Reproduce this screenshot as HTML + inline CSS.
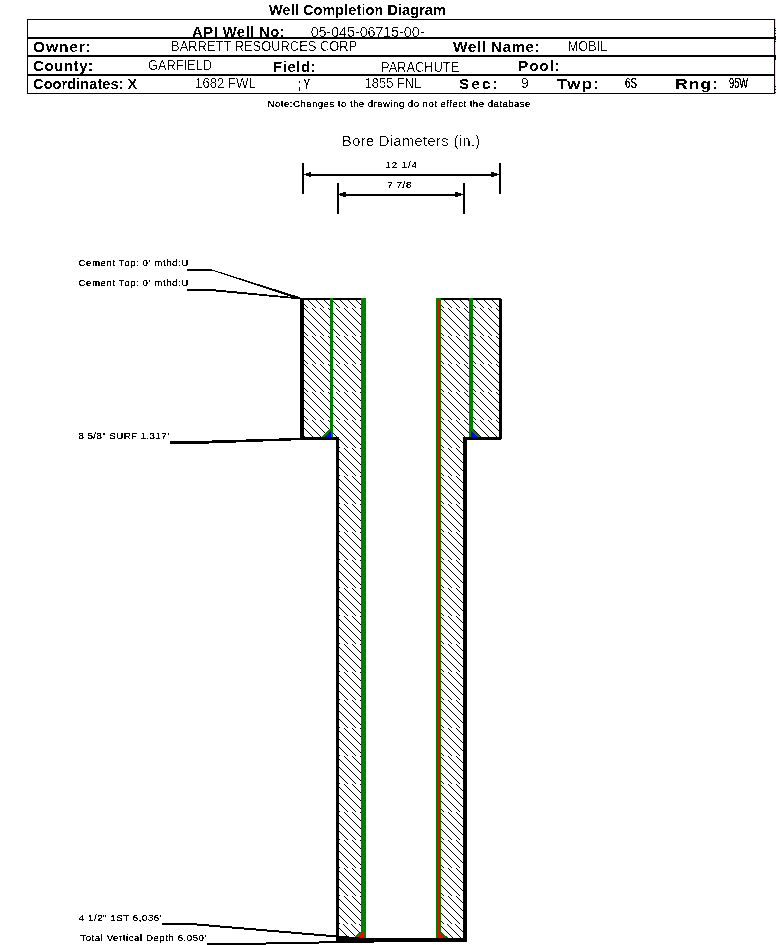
<!DOCTYPE html>
<html><head><meta charset="utf-8"><title>Well Completion Diagram</title>
<style>html,body{margin:0;padding:0;background:#fff;overflow:hidden}svg{display:block}text{font-family:"Liberation Sans",sans-serif;fill:#000}</style></head><body>
<svg width="776" height="945" viewBox="0 0 776 945">
<defs><filter id="t" x="0" y="0" width="776" height="945" filterUnits="userSpaceOnUse"><feComponentTransfer><feFuncA type="discrete" tableValues="0 1 1"/></feComponentTransfer></filter>
<filter id="b" x="0" y="0" width="776" height="945" filterUnits="userSpaceOnUse"><feComponentTransfer><feFuncA type="discrete" tableValues="0 1"/></feComponentTransfer></filter>
<filter id="u" x="0" y="0" width="776" height="945" filterUnits="userSpaceOnUse"><feComponentTransfer><feFuncA type="discrete" tableValues="0 0 0 1 1"/></feComponentTransfer></filter>
<pattern id="h" width="8" height="28" patternUnits="userSpaceOnUse" shape-rendering="crispEdges"><rect x="0" y="0" width="1" height="1"/><rect x="1" y="1" width="1" height="1"/><rect x="2" y="2" width="1" height="1"/><rect x="3" y="3" width="1" height="1"/><rect x="4" y="4" width="1" height="1"/><rect x="5" y="5" width="1" height="1"/><rect x="6" y="6" width="1" height="1"/><rect x="7" y="7" width="1" height="1"/><rect x="0" y="8" width="1" height="1"/><rect x="1" y="9" width="1" height="1"/><rect x="2" y="10" width="1" height="1"/><rect x="3" y="11" width="1" height="1"/><rect x="4" y="12" width="1" height="1"/><rect x="5" y="13" width="1" height="1"/><rect x="6" y="14" width="1" height="1"/><rect x="7" y="15" width="1" height="1"/><rect x="0" y="16" width="1" height="1"/><rect x="1" y="17" width="1" height="1"/><rect x="2" y="18" width="1" height="1"/><rect x="3" y="19" width="1" height="1"/><rect x="4" y="20" width="1" height="1"/><rect x="5" y="21" width="1" height="1"/><rect x="6" y="22" width="1" height="1"/><rect x="7" y="23" width="1" height="1"/><rect x="0" y="24" width="1" height="1"/><rect x="1" y="25" width="1" height="1"/><rect x="2" y="26" width="1" height="1"/><rect x="3" y="27" width="1" height="1"/></pattern>
<pattern id="h2" width="8" height="28" patternUnits="userSpaceOnUse" shape-rendering="crispEdges"><rect x="7" y="0" width="1" height="1"/><rect x="0" y="1" width="1" height="1"/><rect x="1" y="2" width="1" height="1"/><rect x="2" y="3" width="1" height="1"/><rect x="3" y="4" width="1" height="1"/><rect x="4" y="5" width="1" height="1"/><rect x="5" y="6" width="1" height="1"/><rect x="6" y="7" width="1" height="1"/><rect x="7" y="8" width="1" height="1"/><rect x="0" y="9" width="1" height="1"/><rect x="1" y="10" width="1" height="1"/><rect x="2" y="11" width="1" height="1"/><rect x="3" y="12" width="1" height="1"/><rect x="4" y="13" width="1" height="1"/><rect x="5" y="14" width="1" height="1"/><rect x="6" y="15" width="1" height="1"/><rect x="7" y="16" width="1" height="1"/><rect x="0" y="17" width="1" height="1"/><rect x="1" y="18" width="1" height="1"/><rect x="2" y="19" width="1" height="1"/><rect x="3" y="20" width="1" height="1"/><rect x="4" y="21" width="1" height="1"/><rect x="5" y="22" width="1" height="1"/><rect x="6" y="23" width="1" height="1"/><rect x="7" y="24" width="1" height="1"/><rect x="0" y="25" width="1" height="1"/><rect x="1" y="26" width="1" height="1"/><rect x="2" y="27" width="1" height="1"/></pattern></defs>
<rect width="776" height="945" fill="#fff"/>
<g shape-rendering="crispEdges" fill="#000">
<rect x="27" y="19" width="748" height="1"/>
<rect x="27" y="93" width="748" height="1"/>
<rect x="27" y="19" width="1" height="75"/>
<rect x="774" y="19" width="1" height="75"/>
<rect x="27" y="37" width="748" height="2"/>
<rect x="27" y="55" width="748" height="2"/>
<rect x="27" y="74" width="748" height="2"/>
<rect x="775" y="19" width="1" height="76" fill="#ffd2f2"/>
<rect x="775" y="28" width="1" height="1"/>
<rect x="775" y="30" width="1" height="1"/>
<rect x="775" y="33" width="1" height="1"/>
<rect x="775" y="36" width="1" height="1"/>
<rect x="775" y="37" width="1" height="1"/>
<rect x="775" y="38" width="1" height="1"/>
<rect x="775" y="39" width="1" height="1"/>
<rect x="775" y="41" width="1" height="1"/>
<rect x="775" y="55" width="1" height="1"/>
<rect x="775" y="56" width="1" height="1"/>
<rect x="775" y="57" width="1" height="1"/>
<rect x="775" y="58" width="1" height="1"/>
<rect x="775" y="59" width="1" height="1"/>
<rect x="775" y="86" width="1" height="1"/>
<rect x="775" y="89" width="1" height="1"/>
<rect x="775" y="92" width="1" height="1"/>
</g>
<g shape-rendering="crispEdges" fill="#000">
<rect x="302" y="163" width="2" height="31"/>
<rect x="499" y="163" width="2" height="31"/>
<rect x="337" y="183" width="2" height="31"/>
<rect x="463" y="183" width="2" height="31"/>
<rect x="304" y="174" width="2" height="1"/>
<rect x="306" y="173" width="3" height="3"/>
<rect x="309" y="172" width="2" height="5"/>
<rect x="311" y="174" width="180" height="2"/>
<rect x="491" y="172" width="3" height="5"/>
<rect x="494" y="173" width="3" height="3"/>
<rect x="497" y="174" width="2" height="1"/>
<rect x="339" y="194" width="1" height="1"/>
<rect x="340" y="193" width="3" height="3"/>
<rect x="343" y="192" width="3" height="5"/>
<rect x="346" y="194" width="109" height="2"/>
<rect x="455" y="192" width="3" height="5"/>
<rect x="458" y="193" width="3" height="3"/>
<rect x="461" y="194" width="2" height="1"/>
</g>
<g shape-rendering="crispEdges">
<rect x="304" y="300" width="26" height="137" fill="url(#h)"/>
<rect x="333" y="300" width="6" height="137" fill="url(#h)"/>
<rect x="339" y="300" width="22" height="624" fill="url(#h)"/>
<rect x="339" y="924" width="22" height="14" fill="url(#h2)"/>
<rect x="441" y="300" width="22" height="624" fill="url(#h)"/>
<rect x="441" y="924" width="22" height="14" fill="url(#h2)"/>
<rect x="463" y="300" width="6" height="137" fill="url(#h)"/>
<rect x="473" y="300" width="26" height="137" fill="url(#h)"/>
<g fill="#000">
<rect x="300" y="298" width="4" height="142"/>
<rect x="499" y="299" width="3" height="140"/>
<rect x="499" y="298" width="2" height="1"/>
<rect x="300" y="298" width="61" height="2"/>
<rect x="441" y="298" width="59" height="2"/>
<rect x="300" y="437" width="39" height="3"/>
<rect x="463" y="437" width="39" height="2"/>
<rect x="463" y="439" width="38" height="1"/>
<rect x="336" y="437" width="3" height="506"/>
<rect x="463" y="437" width="4" height="505"/>
<rect x="336" y="938" width="131" height="4"/>
</g>
<g fill="#008000">
<rect x="330" y="298" width="3" height="139"/>
<rect x="469" y="298" width="4" height="139"/>
<rect x="361" y="298" width="5" height="640"/>
<rect x="436" y="298" width="5" height="640"/>
<path d="M321.5 437H324.5L333 428.5H330Z"/>
<path d="M480.5 437H477.5L469 428.5H472Z"/>
<path d="M354.5 937H357.5L363 931.8V930H361V931.2Z"/>
<path d="M448.5 938H445.5L439 932.3V930H441V931.8Z"/>
</g>
<g fill="#00f"><path d="M324.5 437L331 430.5V437Z"/><path d="M477.5 437L471 430.5V437Z"/></g>
<g fill="#f00">
<rect x="363" y="300" width="1" height="638"/>
<rect x="438" y="300" width="1" height="638"/>
<path d="M357.5 937L363 931.8H364V938H357.5Z"/><path d="M445.5 938L439 932.3H438V938Z"/>
</g>
</g>
<g shape-rendering="crispEdges" fill="#000" stroke="none">
<rect x="187" y="269" width="25" height="2"/>
<path d="M212 269.5L300 297.2V299H297L240 279.9L212 270.6Z"/>
<rect x="187" y="289" width="29" height="2"/>
<path d="M216 289.5L300 297.66V299H296L216 291.5Z"/>
<path d="M170 441H212V440.5L300 437.9V440.17L209 443.5V444H170Z"/>
<rect x="162" y="923" width="35" height="2"/>
<path d="M197 923.5L360 937.43V939.43L197 925.5Z"/>
<rect x="207" y="943" width="59" height="2"/>
<rect x="266" y="942" width="53" height="2"/>
<rect x="319" y="941" width="55" height="2"/>
</g>
<g filter="url(#t)">
<text x="298.10" y="89" font-size="14.5" textLength="11.90" lengthAdjust="spacingAndGlyphs">; Y</text>
<text x="625.00" y="88" font-size="14.5" textLength="12.00" lengthAdjust="spacingAndGlyphs">6S</text>
<text x="729.00" y="88" font-size="14.5" textLength="19.00" lengthAdjust="spacingAndGlyphs">95W</text>
<text x="267.60" y="107" font-size="9.7" textLength="262.90" lengthAdjust="spacing">Note:Changes to the drawing do not effect the database</text>
<text x="385.60" y="168" font-size="9.7" textLength="31.30" lengthAdjust="spacing">12 1/4</text>
<text x="387.30" y="188" font-size="9.7" textLength="24.00" lengthAdjust="spacing">7 7/8</text>
<text x="78.40" y="266" font-size="9.7" textLength="109.90" lengthAdjust="spacing">Cement Top: 0&#39; mthd:U</text>
<text x="78.40" y="286" font-size="9.7" textLength="109.90" lengthAdjust="spacing">Cement Top: 0&#39; mthd:U</text>
<text x="78.40" y="439" font-size="9.7" textLength="90.60" lengthAdjust="spacing">8 5/8&quot; SURF 1,317&#39;</text>
<text x="78.80" y="921" font-size="9.7" textLength="82.80" lengthAdjust="spacing">4 1/2&quot; 1ST 6,036&#39;</text>
<text x="80.30" y="941" font-size="9.7" textLength="126.10" lengthAdjust="spacing">Total Vertical Depth 6,050&#39;</text>
</g>
<g filter="url(#u)">
<text x="310.70" y="37" font-size="14.5" textLength="113.70" lengthAdjust="spacingAndGlyphs">05-045-06715-00-</text>
<text x="171.10" y="51" font-size="14.5" textLength="186.10" lengthAdjust="spacingAndGlyphs">BARRETT RESOURCES CORP</text>
<text x="567.80" y="51" font-size="14.5" textLength="39.40" lengthAdjust="spacingAndGlyphs">MOBIL</text>
<text x="148.10" y="70" font-size="14.5" textLength="63.80" lengthAdjust="spacingAndGlyphs">GARFIELD</text>
<text x="381.10" y="72" font-size="14.5" textLength="78.20" lengthAdjust="spacingAndGlyphs">PARACHUTE</text>
<text x="195.10" y="88" font-size="14.5" textLength="60.80" lengthAdjust="spacingAndGlyphs">1682 FWL</text>
<text x="364.70" y="88" font-size="14.5" textLength="56.60" lengthAdjust="spacingAndGlyphs">1855 FNL</text>
<text x="521.10" y="88" font-size="14.5" textLength="7.80" lengthAdjust="spacingAndGlyphs">9</text>
<text transform="translate(342.10 146) scale(1.0 1)" font-size="14.5" textLength="138.10" lengthAdjust="spacing">Bore Diameters (in.)</text>
</g>
<g filter="url(#b)">
<text transform="translate(269.00 15) scale(1.0 1)" font-size="14.5" font-weight="bold" textLength="176.90" lengthAdjust="spacing">Well Completion Diagram</text>
<text transform="translate(192.10 37) scale(1.02 1)" font-size="14.5" font-weight="bold" textLength="90.69" lengthAdjust="spacing">API Well No:</text>
<text transform="translate(33.10 52) scale(1.08 1)" font-size="14.5" font-weight="bold" textLength="53.52" lengthAdjust="spacing">Owner:</text>
<text transform="translate(453.00 52) scale(1.06 1)" font-size="14.5" font-weight="bold" textLength="81.79" lengthAdjust="spacing">Well Name:</text>
<text transform="translate(33.10 71) scale(1.04 1)" font-size="14.5" font-weight="bold" textLength="57.69" lengthAdjust="spacing">County:</text>
<text transform="translate(273.10 72) scale(1.04 1)" font-size="14.5" font-weight="bold" textLength="41.06" lengthAdjust="spacing">Field:</text>
<text transform="translate(518.10 71) scale(1.06 1)" font-size="14.5" font-weight="bold" textLength="39.34" lengthAdjust="spacing">Pool:</text>
<text transform="translate(33.10 89) scale(1.0 1)" font-size="14.5" font-weight="bold" textLength="104.20" lengthAdjust="spacing">Coordinates: X</text>
<text transform="translate(459.10 89) scale(1.05 1)" font-size="14.5" font-weight="bold" textLength="36.86" lengthAdjust="spacing">Sec:</text>
<text transform="translate(557.00 89) scale(1.15 1)" font-size="14.5" font-weight="bold" textLength="36.35" lengthAdjust="spacing">Twp:</text>
<text transform="translate(675.10 89) scale(1.22 1)" font-size="14.5" font-weight="bold" textLength="35.00" lengthAdjust="spacing">Rng:</text>
</g>
</svg></body></html>
